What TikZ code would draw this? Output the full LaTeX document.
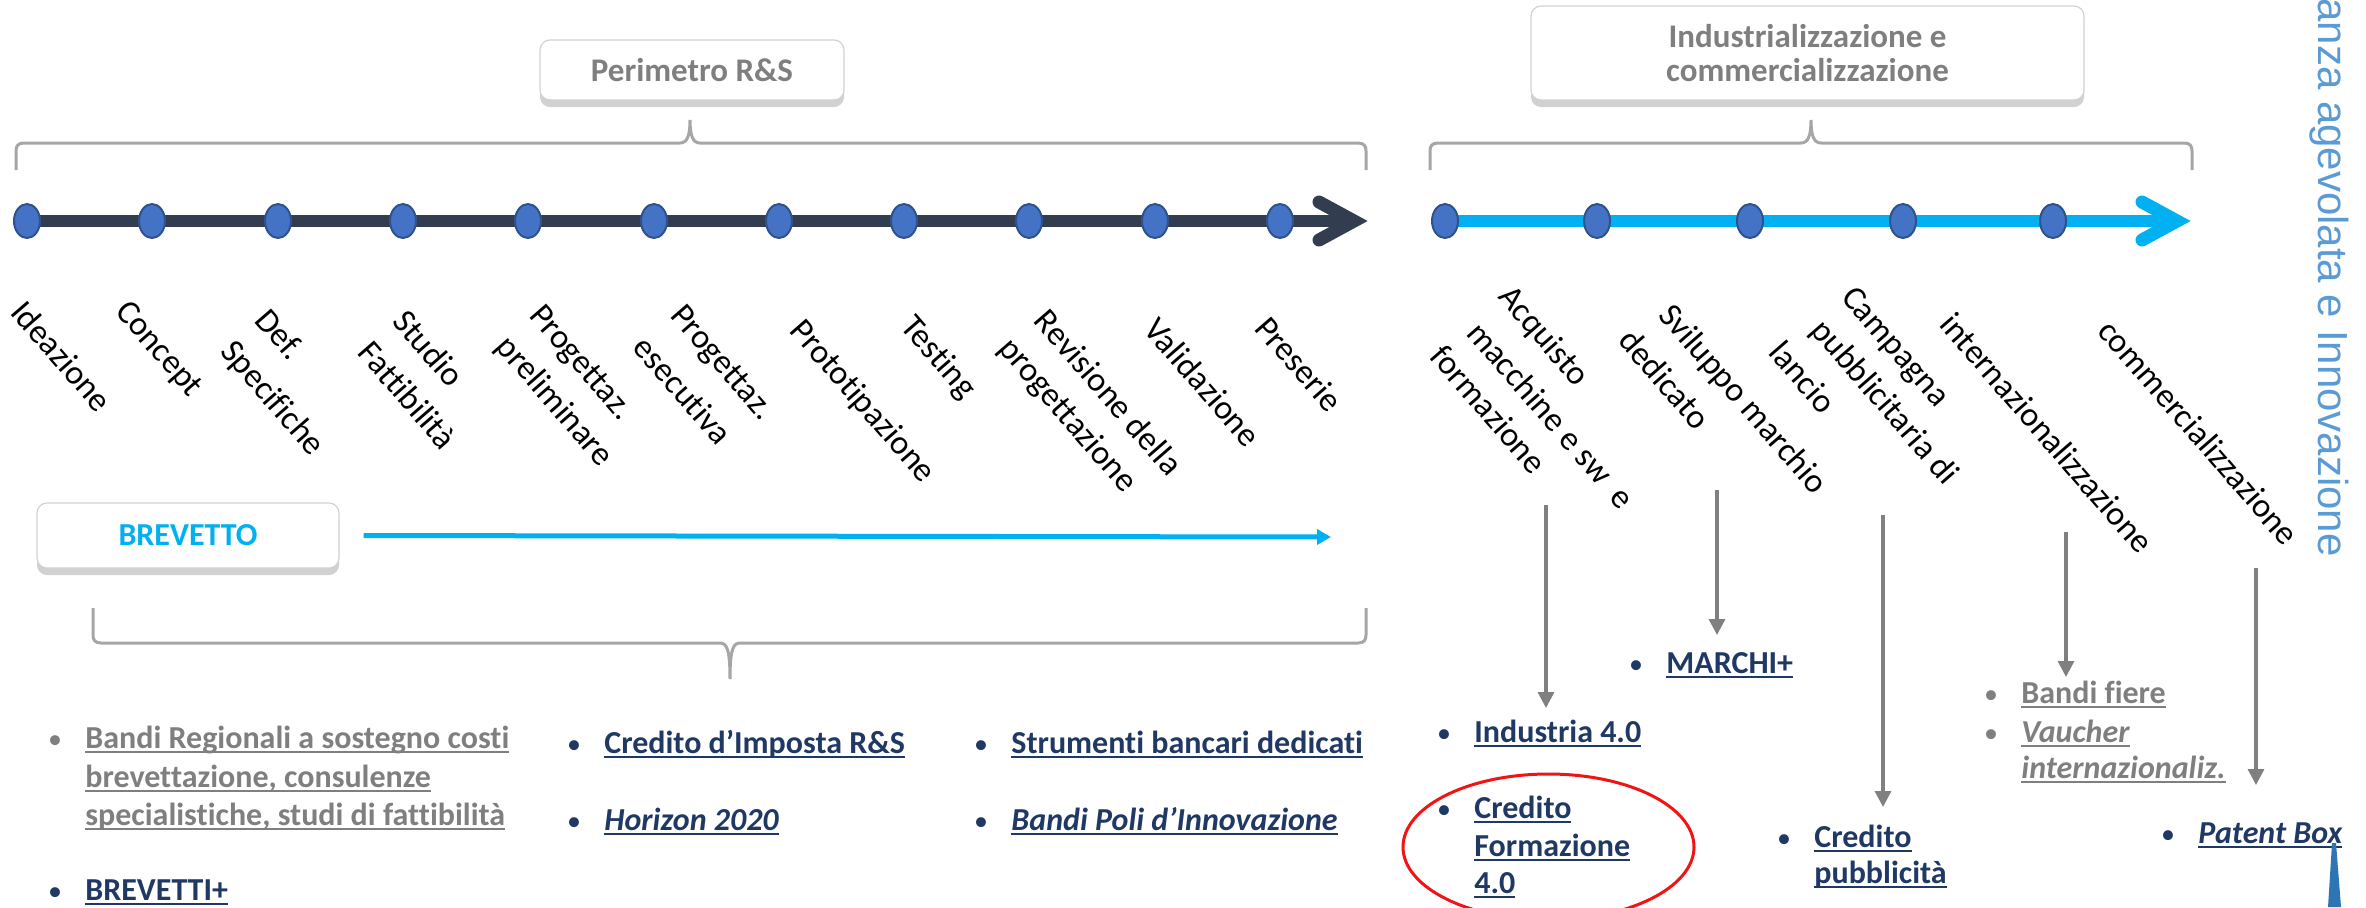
\documentclass[tikz,border=0pt]{standalone}
\usepackage{fontspec}
\setmainfont{Carlito}[Ligatures=NoCommon]
\newfontfamily\vfont{Liberation Sans}
\newsavebox\ulbox
\newcommand\myul[1]{\sbox\ulbox{#1}\rlap{\rule[-2.4pt]{\wd\ulbox}{1.1pt}}\usebox\ulbox}
\usetikzlibrary{shapes.geometric,arrows.meta,shadows,backgrounds}
\definecolor{navytext}{RGB}{31,56,100}
\definecolor{txtgray}{RGB}{127,127,127}
\definecolor{lblue}{RGB}{0,176,240}
\definecolor{darkline}{RGB}{50,62,79}
\definecolor{dotblue}{RGB}{68,114,196}
\definecolor{dotedge}{RGB}{47,82,143}
\definecolor{vblue}{RGB}{91,155,213}
\definecolor{bracegray}{RGB}{166,166,166}
\definecolor{arrowgray}{RGB}{128,128,128}
\definecolor{towerblue}{RGB}{46,117,182}
\definecolor{ringred}{RGB}{240,20,20}
\begin{document}
\begin{tikzpicture}[x=0.5pt,y=-0.5pt,
  box/.style={draw=gray!35, fill=white, rounded corners=5pt, line width=0.6pt,
    drop shadow={shadow xshift=0pt, shadow yshift=-3.5pt, opacity=0.3, fill=black!60},
    inner sep=0, align=center, text=txtgray, font=\bfseries\fontsize{16.5}{17}\selectfont},
  dot/.style={ellipse, fill=dotblue, draw=dotedge, line width=1pt,
    minimum width=13pt, minimum height=17pt, inner sep=0},
  lab/.style={rotate=-49, anchor=center, inner sep=0,
    font=\fontsize{17}{20}\selectfont},
  item/.style={anchor=base west, inner sep=0, font=\bfseries\fontsize{16}{19}\selectfont},
  gitem/.style={item, text=txtgray},
  nitem/.style={item, text=navytext},
  bul/.style={anchor=base, inner sep=0, font=\fontsize{14}{17}\selectfont},
  brace/.style={draw=bracegray, line width=1.5pt},
  garrow/.style={draw=arrowgray, line width=1.6pt, -{Triangle[length=8pt,width=8pt]}},
  tline/.style={line width=6pt},
  chev/.style={line width=6.5pt, line cap=round, line join=miter},
  vt/.style={rotate=-90, anchor=base east, inner sep=0, text=vblue,
    font=\vfont\fontsize{21}{25}\selectfont}
]
\useasboundingbox (0,0) rectangle (2366,907);

% header boxes
\node[box, minimum width=152pt, minimum height=30pt] (perim) at (692,70) {Perimetro R\&S};
\node[box, minimum width=276.5pt, minimum height=47pt] (indus) at (1807.5,53) {Industrializzazione e\\commercializzazione};

% braces
\draw[brace] (16,170) -- (16,151) .. controls (16,146) and (18,143) .. (24,143) -- (680,143)
  .. controls (687,143) and (690,136) .. (690,120) .. controls (690,136) and (693,143) .. (700,143)
  -- (1358,143) .. controls (1364,143) and (1366,146) .. (1366,151) -- (1366,170);
\draw[brace] (1430,170) -- (1430,151) .. controls (1430,146) and (1432,143) .. (1438,143) -- (1801,143)
  .. controls (1808,143) and (1811,136) .. (1811,120) .. controls (1811,136) and (1814,143) .. (1821,143)
  -- (2184,143) .. controls (2190,143) and (2192,146) .. (2192,151) -- (2192,170);
\draw[brace] (93,608) -- (93,635) .. controls (93,640) and (95,643) .. (101,643) -- (720,643)
  .. controls (727,643) and (730,650) .. (730,679) .. controls (730,650) and (733,643) .. (740,643)
  -- (1358,643) .. controls (1364,643) and (1366,640) .. (1366,635) -- (1366,608);

% left timeline
\coordinate (lv) at (1354,221);
\coordinate (la1) at (1319,202);
\coordinate (la2) at (1319,240);
\foreach \i/\x in {1/27,2/152,3/278,4/403,5/528,6/654,7/779,8/904,9/1029,10/1155,11/1280}
  \node[dot] (d\i) at (\x,221) {};
\begin{scope}[on background layer]
  \draw[tline, darkline] (d1.center) -- (lv);
\end{scope}
\draw[chev, darkline] (la1) -- (lv) -- (la2);

% right timeline
\coordinate (rv) at (2177,221);
\coordinate (ra1) at (2142,202);
\coordinate (ra2) at (2142,240);
\foreach \i/\x in {1/1445,2/1597,3/1750,4/1903,5/2053}
  \node[dot] (r\i) at (\x,221) {};
\begin{scope}[on background layer]
  \draw[tline, lblue] (r1.center) -- (rv);
\end{scope}
\draw[chev, lblue] (ra1) -- (rv) -- (ra2);

% rotated labels (one node per line, placed by line centre)
\node[lab] (l1) at (62,356) {Ideazione};
\node[lab] (l2) at (158,350) {Concept};
\node[lab] (l3a) at (280,334) {Def.};
\node[lab] (l3b) at (272,399) {Specifiche};
\node[lab] (l4a) at (429,348) {Studio};
\node[lab] (l4b) at (408,395) {Fattibilità};
\node[lab] (l5a) at (580,364) {Progettaz.};
\node[lab] (l5b) at (554,402) {preliminare};
\node[lab] (l6a) at (721,364) {Progettaz.};
\node[lab] (l6b) at (683,390) {esecutiva};
\node[lab] (l7) at (862,402) {Prototipazione};
\node[lab] (l8) at (938,358) {Testing};
\node[lab] (l9a) at (1109,392) {Revisione della};
\node[lab] (l9b) at (1067,416) {progettazione};
\node[lab] (l10) at (1203,382) {Validazione};
\node[lab] (l11) at (1299,364) {Preserie};
\node[lab] (l12a) at (1543,337) {Acquisto};
\node[lab] (l12b) at (1551,415) {macchine e sw\ \ e};
\node[lab] (l12c) at (1489,409) {formazione};
\node[lab] (l13a) at (1742,400) {Sviluppo marchio};
\node[lab] (l13b) at (1665,379) {dedicato};
\node[lab] (l14a) at (1894,348) {Campagna};
\node[lab] (l14b) at (1884,403) {pubblicitaria di};
\node[lab] (l14c) at (1803,377) {lancio};
\node[lab] (l15) at (2047,433) {internazionalizzazione};
\node[lab] (l16) at (2199,432) {commercializzazione};

% brevetto
\node[box, minimum width=151pt, minimum height=32.5pt, text=lblue,
  font=\bfseries\fontsize{16}{17}\selectfont] (brev) at (188,535.5) {BREVETTO};
\coordinate (brevend) at (1331,537);
\draw[lblue, line width=2.5pt, -{Triangle[length=7pt,width=7.5pt]}] ([xshift=12pt]brev.east) -- (brevend);

% bottom left items
\node[bul, text=txtgray] (bu1) at (55,748) {•};
\node[gitem] (g1a) at (85,748) {\myul{Bandi Regionali a sostegno costi}};
\node[gitem] (g1b) at (85,787) {\myul{brevettazione, consulenze}};
\node[gitem] (g1c) at (85,825) {\myul{specialistiche, studi di fattibilità}};
\node[bul, text=navytext] (bu2) at (55,900) {•};
\node[nitem] (n1) at (85,900) {\myul{BREVETTI+}};
\node[bul, text=navytext] (bu3) at (574,753) {•};
\node[nitem] (n2) at (604,753) {\myul{Credito d’Imposta R\&S}};
\node[bul, text=navytext] (bu4) at (574,830) {•};
\node[nitem] (n3) at (604,830) {\myul{\itshape Horizon 2020}};
\node[bul, text=navytext] (bu5) at (981,753) {•};
\node[nitem] (n4) at (1011,753) {\myul{Strumenti bancari dedicati}};
\node[bul, text=navytext] (bu6) at (981,830) {•};
\node[nitem] (n5) at (1011,830) {\myul{\itshape Bandi Poli d’Innovazione}};

% bottom right items
\node[bul, text=navytext] (bu7) at (1636,673) {•};
\node[nitem] (m1) at (1666,673) {\myul{MARCHI+}};
\node[bul, text=navytext] (bu8) at (1444,742) {•};
\node[nitem] (i1) at (1474,742) {\myul{Industria 4.0}};
\node[bul, text=navytext] (bu9) at (1444,818) {•};
\node[nitem] (cf1) at (1474,818) {\myul{Credito}};
\node[nitem] (cf2) at (1474,856) {\myul{Formazione}};
\node[nitem] (cf3) at (1474,893) {\myul{4.0}};
\node[bul, text=navytext] (bu10) at (1784,847) {•};
\node[nitem] (cp1) at (1814,847) {\myul{Credito}};
\node[nitem] (cp2) at (1814,883) {\myul{pubblicità}};
\node[bul, text=txtgray] (bu11) at (1991,703) {•};
\node[gitem] (bf) at (2021,703) {\myul{Bandi fiere}};
\node[bul, text=txtgray] (bu12) at (1991,742) {•};
\node[gitem] (vi1) at (2021,742) {\myul{\itshape Vaucher}};
\node[gitem] (vi2) at (2021,778) {\myul{\itshape internazionaliz.}};
\node[bul, text=navytext] (bu13) at (2168,843) {•};
\node[nitem] (pb) at (2198,843) {\myul{\itshape Patent Box}};

% red ring
\node[ellipse, draw=ringred, line width=1.5pt, minimum width=145.5pt, minimum height=73pt, inner sep=0] (ring) at (1548.5,847) {};

% gray arrows
\coordinate (a1s) at (1546,505); \coordinate (a1e) at (1546,708);
\coordinate (a2s) at (1717,490); \coordinate (a2e) at (1717,635);
\coordinate (a3s) at (1883,515); \coordinate (a3e) at (1883,807);
\coordinate (a4s) at (2066,532); \coordinate (a4e) at (2066,677);
\coordinate (a5s) at (2256,568); \coordinate (a5e) at (2256,785);
\draw[garrow] (a1s) -- (a1e);
\draw[garrow] (a2s) -- (a2e);
\draw[garrow] (a3s) -- (a3e);
\draw[garrow] (a4s) -- (a4e);
\draw[garrow] (a5s) -- (a5e);

% vertical side text
\node[vt] (side) at (2318,557) {anza agevolata e Innovazione};

% small tower at bottom right
\fill[towerblue] (2332,843) -- (2336,843) -- (2341,907) -- (2328,907) -- cycle;
\end{tikzpicture}
\end{document}
